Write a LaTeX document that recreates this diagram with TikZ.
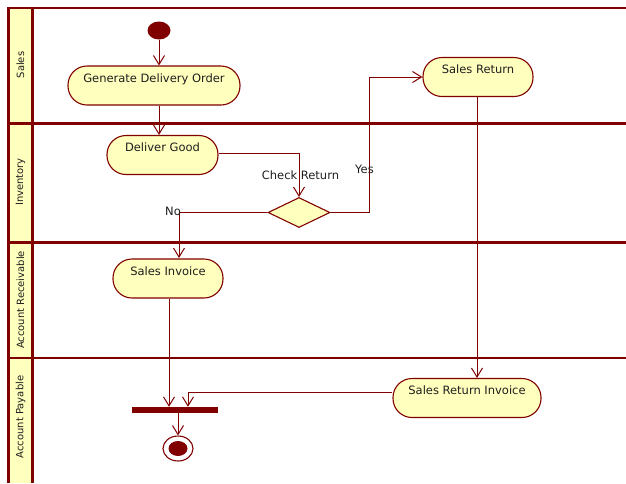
\documentclass[tikz,border=0pt]{standalone}
\usepackage{fontspec}
\setmainfont{DejaVu Sans}
\usetikzlibrary{arrows.meta,shapes.geometric}
\definecolor{maroonline}{RGB}{128,0,0}
\definecolor{actfill}{RGB}{255,255,190}
\definecolor{txt}{RGB}{30,30,30}
\tikzset{
  lanerule/.style={draw=maroonline,line width=3pt},
  lanetitle/.style={rotate=90,font=\fontsize{10}{12}\selectfont,text=txt,inner sep=0pt},
  activity/.style={draw=maroonline,fill=actfill,line width=1.1pt,rounded corners=19pt,
    minimum height=39pt,text height=16pt,text depth=23pt,inner ysep=0pt,inner xsep=0pt,
    font=\fontsize{11.5}{13}\selectfont,text=txt},
  decision/.style={diamond,draw=maroonline,fill=actfill,line width=1.1pt,inner sep=0pt,
    minimum width=62pt,minimum height=30pt},
  flow/.style={draw=maroonline,line width=1pt,-{Straight Barb[length=9pt,width=11pt,line width=1pt]}},
  flowlabel/.style={font=\fontsize{11.5}{13}\selectfont,text=txt,inner sep=0pt},
}
\begin{document}
\begin{tikzpicture}[x=1pt,y=-1pt]
\useasboundingbox (0,0) rectangle (626,483);

% swimlane frame and title column
\fill[actfill] (8,8) rectangle (32.5,483);
\draw[maroonline,line width=2pt] (8,8) -- (626,8);
\draw[lanerule] (8,123) -- (626,123);
\draw[lanerule] (8,242) -- (626,242);
\draw[maroonline,line width=2.5pt] (8,358) -- (626,358);
\draw[lanerule] (8,7) -- (8,483);
\draw[lanerule] (32.5,8) -- (32.5,483);

\node[lanetitle] (laneSales) at (20.5,65) {Sales};
\node[lanetitle] (laneInv) at (20.5,182) {Inventory};
\node[lanetitle] (laneAR) at (20.5,300) {Account Receivable};
\node[lanetitle] (laneAP) at (20.5,417) {Account Payable};

% initial and final states
\node[ellipse,fill=maroonline,minimum width=23pt,minimum height=18pt,inner sep=0pt] (start) at (159,30.5) {};
\node[ellipse,draw=maroonline,fill=white,line width=1.1pt,minimum width=30pt,minimum height=25pt,inner sep=0pt] (final) at (178,448.5) {};
\node[ellipse,fill=maroonline,minimum width=19pt,minimum height=15pt,inner sep=0pt] (finalDot) at (178,448.5) {};

% activities
\node[activity,minimum width=172pt] (gdo) at (154,85.5) {Generate Delivery Order};
\node[activity,minimum width=111pt] (dg) at (162.5,155) {Deliver Good};
\node[activity,minimum width=110pt] (sr) at (478,77) {Sales Return};
\node[activity,minimum width=110pt] (si) at (168,278.5) {Sales Invoice};
\node[activity,minimum width=148pt] (sri) at (467,398) {Sales Return Invoice};
\node[decision] (chk) at (299,212.5) {};
\node[fill=maroonline,minimum width=86pt,minimum height=6pt,inner sep=0pt] (join) at (175,410) {};

% control flows
\draw[flow] (start.south) -- (gdo.north -| start.south);
\draw[flow] (gdo.south -| start.south) -- (dg.north -| start.south);
\draw[flow] ([yshift=2pt]dg.east) -| (chk.north);
\draw[flow] (chk.east) -- (369,212.5) |- (sr.west);
\draw[flow] (chk.west) -| (179,258);
\draw[flow] (sr.south -| 477,0) -- (sri.north -| 477,0);
\draw[flow] (si.south -| 169,0) -- (join.north -| 169,0);
\draw[flow] ([yshift=6pt]sri.west) -| (join.north -| 188,0);
\draw[flow] (join.south -| final.north) -- (final.north);

% guard labels
\node[flowlabel] (lblCheck) at (300.5,175) {Check Return};
\node[flowlabel] (lblYes) at (364.5,169) {Yes};
\node[flowlabel] (lblNo) at (173,211) {No};
\end{tikzpicture}
\end{document}
